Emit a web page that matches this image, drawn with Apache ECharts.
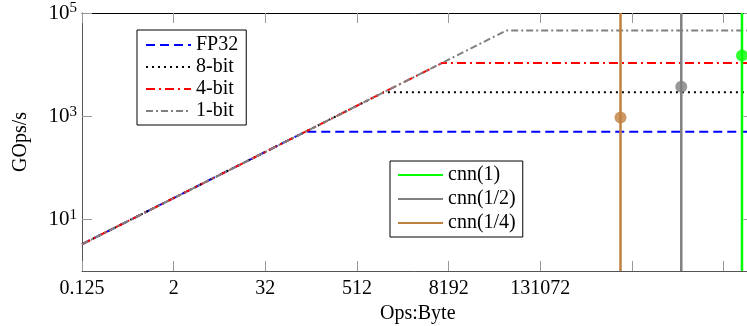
<!DOCTYPE html>
<html>
<head>
<meta charset="utf-8">
<script src="https://cdn.jsdelivr.net/npm/echarts@6/dist/echarts.min.js"></script>
<style>
  html, body { margin: 0; padding: 0; background: #fff; }
  #chart { width: 747px; height: 326px; }
</style>
</head>
<body>
<div id="chart"></div>
<script>
// Roofline: attainable performance (GOps/s) versus arithmetic intensity (Ops:Byte)

// axis ticks (raw values) and their labels
const xTicks = [0.125, 2, 32, 512, 8192, 131072, 2097152, 33554432];
const xTickLabels = ['0.125', '2', '32', '512', '8192', '131072', '', ''];
const yTicks = [10, 1000, 100000];
const yTickExponents = ['1', '3', '5'];

// axis ranges (raw values)
const xRange = [0.125, Math.pow(2, 26.3)];
const yRange = [1, 100000];

// rooflines: [Ops:Byte, GOps/s]
const rooflineNames = ['FP32', '8-bit', '4-bit', '1-bit'];
const roofFP32 = [[0.125, 3.3], [107, 500], [1e8, 500]];
const roof8bit = [[0.125, 3.3], [1145, 2900], [1e8, 2900]];
const roof4bit = [[0.125, 3.3], [6640, 10700], [1e8, 10700]];
const roof1bit = [[0.125, 3.3], [47300, 46000], [1e8, 46000]];

// measured networks
const cnnNames = ['cnn(1)', 'cnn(1/2)', 'cnn(1/4)'];
const cnnIntensity = [5.83e7, 9.3e6, 1.48e6];
const cnnPerf = [15000, 3740, 944];

const FONT = 'Liberation Serif';
const lx = v => Math.log2(v);
const ly = v => Math.log10(v);
const toLog = pts => pts.map(p => [lx(p[0]), ly(p[1])]);

const roofStyles = [
  { color: '#0000ff', type: [9, 5] },
  { color: '#000000', type: [2, 4] },
  { color: '#ff0000', type: [9, 4, 2, 4] },
  { color: '#808080', type: [7, 3, 2, 3] }
];
const roofData = [roofFP32, roof8bit, roof4bit, roof1bit];
const cnnColors = ['#00ff00', '#808080', '#bf8040'];

const series = [];
rooflineNames.forEach((name, i) => {
  series.push({
    name: name,
    type: 'line',
    data: toLog(roofData[i]),
    symbol: 'none',
    clip: true,
    z: 2,
    lineStyle: { color: roofStyles[i].color, width: 2, type: roofStyles[i].type },
    itemStyle: { color: roofStyles[i].color }
  });
});
cnnNames.forEach((name, i) => {
  series.push({
    name: name,
    type: 'line',
    data: [[lx(cnnIntensity[i]), ly(yRange[0])], [lx(cnnIntensity[i]), ly(yRange[1])]],
    symbol: 'none',
    z: 3,
    lineStyle: { color: cnnColors[i], width: 2.5, type: 'solid' },
    itemStyle: { color: cnnColors[i] }
  });
  series.push({
    name: name + ' point',
    type: 'scatter',
    data: [[lx(cnnIntensity[i]), ly(cnnPerf[i])]],
    symbol: 'circle',
    symbolSize: 12,
    clip: false,
    z: 4,
    itemStyle: { color: cnnColors[i] }
  });
});

const textBase = { fontFamily: FONT, fontSize: 20, color: '#000' };

const legendBase = {
  orient: 'vertical',
  align: 'left',
  itemWidth: 45,
  itemHeight: 14,
  backgroundColor: '#fff',
  borderColor: '#000',
  borderWidth: 1,
  borderRadius: 0,
  // keep only the line sample in each legend key
  itemStyle: { opacity: 0, borderWidth: 0 },
  textStyle: Object.assign({ lineHeight: 20 }, textBase),
  selectedMode: false
};

const option = {
  animation: false,
  backgroundColor: '#fff',
  grid: {
    left: 82, width: 671.5, top: 13, bottom: 55,
    containLabel: false, outerBoundsMode: 'none'
  },
  legend: [
    Object.assign({}, legendBase, {
      data: rooflineNames, left: 137, top: 30, itemGap: 2, padding: [5, 8, 4, 8]
    }),
    Object.assign({}, legendBase, {
      data: cnnNames, left: 390, top: 161, itemGap: 4, padding: [4, 7, 4, 7]
    })
  ],
  xAxis: [
    {
      type: 'value',
      position: 'bottom',
      min: lx(xRange[0]),
      max: lx(xRange[1]),
      name: 'Ops:Byte',
      nameLocation: 'middle',
      nameGap: 30,
      nameTextStyle: textBase,
      axisLine: { show: true, onZero: false, lineStyle: { color: '#555', width: 1 } },
      axisTick: {
        show: true, inside: true, length: 10,
        customValues: xTicks.map(lx),
        lineStyle: { color: '#999', width: 1 }
      },
      axisLabel: Object.assign({
        show: true,
        margin: 8,
        customValues: xTicks.filter((t, i) => xTickLabels[i] !== '').map(lx),
        formatter: v => {
          const i = xTicks.findIndex(t => Math.abs(lx(t) - v) < 1e-6);
          return i >= 0 ? xTickLabels[i] : '';
        }
      }, textBase),
      splitLine: { show: false }
    },
    {
      type: 'value',
      position: 'top',
      min: lx(xRange[0]),
      max: lx(xRange[1]),
      axisLine: { show: true, onZero: false, lineStyle: { color: '#000', width: 1 } },
      axisTick: {
        show: true, inside: true, length: 10,
        customValues: xTicks.map(lx),
        lineStyle: { color: '#999', width: 1 }
      },
      axisLabel: { show: false },
      splitLine: { show: false }
    }
  ],
  yAxis: [
    {
      type: 'value',
      position: 'left',
      min: ly(yRange[0]),
      max: ly(yRange[1]),
      name: 'GOps/s',
      nameLocation: 'middle',
      nameGap: 51,
      nameRotate: 90,
      nameTextStyle: textBase,
      axisLine: { show: true, onZero: false, lineStyle: { color: '#555', width: 1 } },
      axisTick: {
        show: true, inside: true, length: 10,
        customValues: yTicks.map(ly),
        lineStyle: { color: '#999', width: 1 }
      },
      axisLabel: {
        show: true,
        margin: 5,
        customValues: yTicks.map(ly),
        formatter: v => {
          const i = yTicks.findIndex(t => Math.abs(ly(t) - v) < 1e-6);
          return '{b|10}{s|' + yTickExponents[i] + '}';
        },
        rich: {
          b: { fontFamily: FONT, fontSize: 21, color: '#000' },
          s: { fontFamily: FONT, fontSize: 15, color: '#000', verticalAlign: 'top', padding: [0, 0, 9, 0] }
        }
      },
      splitLine: { show: false }
    },
    {
      type: 'value',
      position: 'right',
      min: ly(yRange[0]),
      max: ly(yRange[1]),
      axisLine: { show: true, onZero: false, lineStyle: { color: '#000', width: 1 } },
      axisTick: {
        show: true, inside: true, length: 10,
        customValues: yTicks.map(ly),
        lineStyle: { color: '#999', width: 1 }
      },
      axisLabel: { show: false },
      splitLine: { show: false }
    }
  ],
  series: series
};

const chart = echarts.init(document.getElementById('chart'), null, { renderer: 'canvas' });
chart.setOption(option);
</script>
</body>
</html>
